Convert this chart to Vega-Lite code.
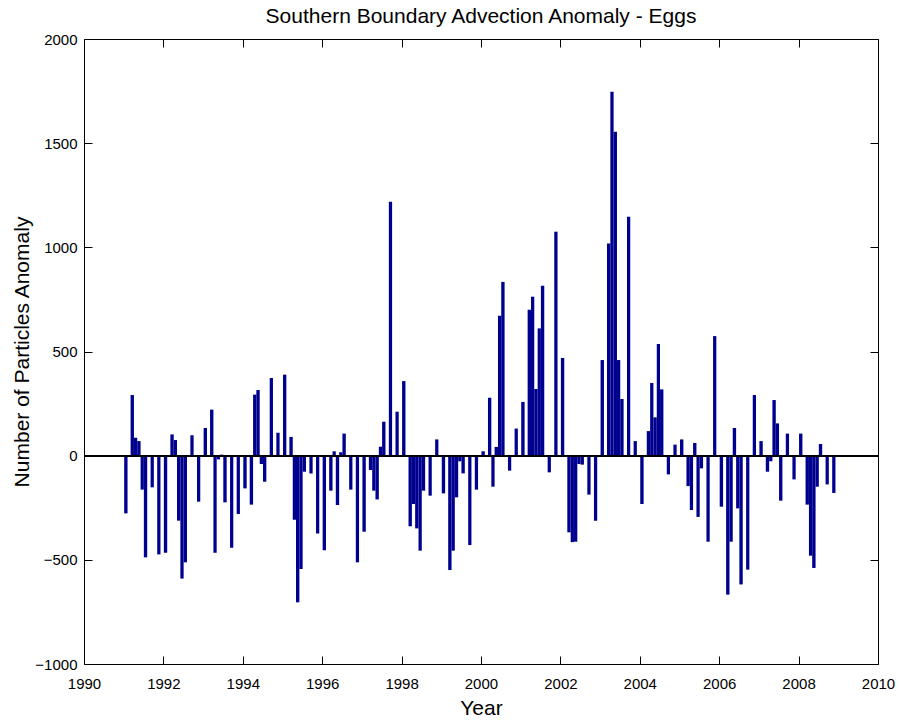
{
  "$schema": "https://vega.github.io/schema/vega-lite/v6.json",
  "width": 794,
  "height": 625,
  "autosize": {"type": "none"},
  "padding": {"left": 84, "top": 39, "right": 21, "bottom": 59},
  "background": "white",
  "config": {
    "font": "Liberation Sans",
    "view": {"stroke": "#000000", "strokeWidth": 1},
    "axis": {"grid": false, "domain": false, "labelFont": "Liberation Sans", "labelFontSize": 15, "labelColor": "#000000", "titleFont": "Liberation Sans", "titleFontSize": 21, "titleFontWeight": "normal", "titleColor": "#000000", "tickColor": "#000000", "tickSize": -8, "tickWidth": 1}
  },
  "title": {"text": "Southern Boundary Advection Anomaly - Eggs", "font": "Liberation Sans", "fontSize": 21, "fontWeight": "normal", "color": "#000000", "offset": 5, "anchor": "middle"},
  "data": {"values": [
    {"month": "1991-01", "v": -277}, {"month": "1991-03", "v": 291}, {"month": "1991-04", "v": 86}, {"month": "1991-05", "v": 70}, {"month": "1991-06", "v": -163}, {"month": "1991-07", "v": -488}, {"month": "1991-09", "v": -152}, {"month": "1991-11", "v": -474},
    {"month": "1992-01", "v": -466}, {"month": "1992-03", "v": 102}, {"month": "1992-04", "v": 75}, {"month": "1992-05", "v": -312}, {"month": "1992-06", "v": -590}, {"month": "1992-07", "v": -512}, {"month": "1992-09", "v": 98}, {"month": "1992-11", "v": -221},
    {"month": "1993-01", "v": 133}, {"month": "1993-03", "v": 221}, {"month": "1993-04", "v": -466}, {"month": "1993-05", "v": -18}, {"month": "1993-06", "v": 5}, {"month": "1993-07", "v": -224}, {"month": "1993-09", "v": -442}, {"month": "1993-11", "v": -280},
    {"month": "1994-01", "v": -157}, {"month": "1994-03", "v": -235}, {"month": "1994-04", "v": 293}, {"month": "1994-05", "v": 315}, {"month": "1994-06", "v": -40}, {"month": "1994-07", "v": -125}, {"month": "1994-09", "v": 373}, {"month": "1994-11", "v": 110},
    {"month": "1995-01", "v": 389}, {"month": "1995-03", "v": 90}, {"month": "1995-04", "v": -307}, {"month": "1995-05", "v": -704}, {"month": "1995-06", "v": -544}, {"month": "1995-07", "v": -77}, {"month": "1995-09", "v": -85}, {"month": "1995-11", "v": -373},
    {"month": "1996-01", "v": -454}, {"month": "1996-03", "v": -168}, {"month": "1996-04", "v": 21}, {"month": "1996-05", "v": -237}, {"month": "1996-06", "v": 16}, {"month": "1996-07", "v": 106}, {"month": "1996-09", "v": -163}, {"month": "1996-11", "v": -512},
    {"month": "1997-01", "v": -365}, {"month": "1997-03", "v": -69}, {"month": "1997-04", "v": -168}, {"month": "1997-05", "v": -210}, {"month": "1997-06", "v": 43}, {"month": "1997-07", "v": 163}, {"month": "1997-09", "v": 1219}, {"month": "1997-11", "v": 211},
    {"month": "1998-01", "v": 358}, {"month": "1998-03", "v": -339}, {"month": "1998-04", "v": -232}, {"month": "1998-05", "v": -349}, {"month": "1998-06", "v": -456}, {"month": "1998-07", "v": -168}, {"month": "1998-09", "v": -192}, {"month": "1998-11", "v": 78},
    {"month": "1999-01", "v": -181}, {"month": "1999-03", "v": -549}, {"month": "1999-04", "v": -456}, {"month": "1999-05", "v": -200}, {"month": "1999-06", "v": -27}, {"month": "1999-07", "v": -85}, {"month": "1999-09", "v": -429}, {"month": "1999-11", "v": -163},
    {"month": "2000-01", "v": 21}, {"month": "2000-03", "v": 278}, {"month": "2000-04", "v": -149}, {"month": "2000-05", "v": 42}, {"month": "2000-06", "v": 672}, {"month": "2000-07", "v": 834}, {"month": "2000-09", "v": -72}, {"month": "2000-11", "v": 130},
    {"month": "2001-01", "v": 258}, {"month": "2001-03", "v": 701}, {"month": "2001-04", "v": 763}, {"month": "2001-05", "v": 320}, {"month": "2001-06", "v": 611}, {"month": "2001-07", "v": 816}, {"month": "2001-09", "v": -80}, {"month": "2001-11", "v": 1075},
    {"month": "2002-01", "v": 469}, {"month": "2002-03", "v": -368}, {"month": "2002-04", "v": -415}, {"month": "2002-05", "v": -413}, {"month": "2002-06", "v": -40}, {"month": "2002-07", "v": -43}, {"month": "2002-09", "v": -187}, {"month": "2002-11", "v": -312},
    {"month": "2003-01", "v": 459}, {"month": "2003-03", "v": 1018}, {"month": "2003-04", "v": 1747}, {"month": "2003-05", "v": 1555}, {"month": "2003-06", "v": 459}, {"month": "2003-07", "v": 272}, {"month": "2003-09", "v": 1147}, {"month": "2003-11", "v": 70},
    {"month": "2004-01", "v": -232}, {"month": "2004-03", "v": 118}, {"month": "2004-04", "v": 349}, {"month": "2004-05", "v": 184}, {"month": "2004-06", "v": 536}, {"month": "2004-07", "v": 318}, {"month": "2004-09", "v": -90}, {"month": "2004-11", "v": 53},
    {"month": "2005-01", "v": 78}, {"month": "2005-03", "v": -146}, {"month": "2005-04", "v": -261}, {"month": "2005-05", "v": 61}, {"month": "2005-06", "v": -294}, {"month": "2005-07", "v": -61}, {"month": "2005-09", "v": -413}, {"month": "2005-11", "v": 574},
    {"month": "2006-01", "v": -245}, {"month": "2006-03", "v": -667}, {"month": "2006-04", "v": -413}, {"month": "2006-05", "v": 133}, {"month": "2006-06", "v": -253}, {"month": "2006-07", "v": -618}, {"month": "2006-09", "v": -547}, {"month": "2006-11", "v": 291},
    {"month": "2007-01", "v": 70}, {"month": "2007-03", "v": -77}, {"month": "2007-04", "v": -27}, {"month": "2007-05", "v": 267}, {"month": "2007-06", "v": 155}, {"month": "2007-07", "v": -216}, {"month": "2007-09", "v": 106}, {"month": "2007-11", "v": -114},
    {"month": "2008-01", "v": 106}, {"month": "2008-03", "v": -235}, {"month": "2008-04", "v": -480}, {"month": "2008-05", "v": -539}, {"month": "2008-06", "v": -149}, {"month": "2008-07", "v": 56}, {"month": "2008-09", "v": -138}, {"month": "2008-11", "v": -179}
  ]},
  "layer": [
    {
      "mark": {"type": "bar", "color": "#00008F", "binSpacing": 0},
      "encoding": {
        "x": {"field": "month", "type": "temporal", "timeUnit": "utcyearmonth",
              "scale": {"type": "utc", "domain": [{"year": 1990, "month": 1, "date": 1, "utc": true}, {"year": 2010, "month": 1, "date": 1, "utc": true}], "nice": false},
              "axis": {"orient": "bottom", "title": "Year", "format": "%Y", "tickCount": {"interval": "year", "step": 2}, "labelPadding": 20, "titlePadding": 6, "labelFlush": false}},
        "y": {"field": "v", "type": "quantitative",
              "scale": {"domain": [-1000, 2000], "nice": false, "zero": false},
              "axis": {"orient": "left", "title": "Number of Particles Anomaly", "format": "d", "values": [-1000, -500, 0, 500, 1000, 1500, 2000], "labelPadding": 15, "titlePadding": 2, "labelFlush": false}}
      }
    },
    {
      "mark": {"type": "bar", "opacity": 0, "binSpacing": 0},
      "encoding": {
        "x": {"field": "month", "type": "temporal", "timeUnit": "utcyearmonth",
              "axis": {"orient": "top", "title": null, "labels": false, "tickCount": {"interval": "year", "step": 2}}},
        "y": {"field": "v", "type": "quantitative",
              "axis": {"orient": "right", "title": null, "labels": false, "values": [-1000, -500, 0, 500, 1000, 1500, 2000]}}
      }
    },
    {
      "mark": {"type": "rule", "color": "#000000", "strokeWidth": 1},
      "encoding": {"y": {"datum": 0, "axis": null}}
    }
  ],
  "resolve": {"axis": {"x": "independent", "y": "independent"}}
}
